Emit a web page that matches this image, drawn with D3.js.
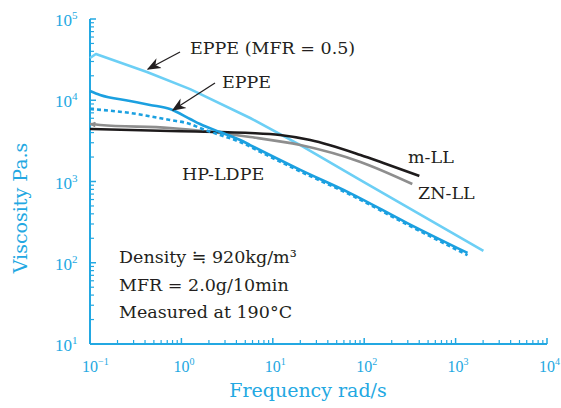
<!DOCTYPE html>
<html>
<head>
<meta charset="utf-8">
<script src="https://cdn.jsdelivr.net/npm/d3@7"></script>
<style>
  body { margin: 0; background: #fff; }
  svg { display: block; }
</style>
</head>
<body>
<div id="chart"></div>
<script>
// Frequency (rad/s) / viscosity (Pa.s) pairs
const eppeMfr05 = [[0.1, 33100], [0.116, 37100], [0.42, 22300], [1.245, 13700], [5.65, 6050], [20, 2810], [91, 1040], [2015, 140]];
const eppe = [[0.1, 13000], [0.129, 11600], [0.274, 9800], [0.454, 8750], [0.75, 7800], [1.245, 5880], [1.6, 5100], [2.65, 4060], [4.4, 3240], [5.65, 2810], [20, 1390], [70, 721], [296, 308], [1350, 132]];
const hpLdpe = [[0.1, 7800], [0.274, 6970], [0.75, 5710], [1.245, 5100], [1.6, 4550], [2.65, 3730], [4.4, 3060], [7.3, 2310], [20, 1330], [70, 690], [296, 295], [1350, 124]];
const mLL = [[0.1, 4430], [0.75, 4190], [5.65, 3950], [12, 3730], [25.7, 3240], [91, 2120], [162, 1690], [401, 1170]];
const znLL = [[0.1, 5100], [0.129, 4960], [0.75, 4550], [5.65, 3530], [20, 2810], [91, 1740], [336, 931]];

const xTicks = [0.1, 1, 10, 100, 1000, 10000];
const xTickExp = ["\u22121", "0", "1", "2", "3", "4"];
const yTicks = [10, 100, 1000, 10000, 100000];
const yTickExp = ["1", "2", "3", "4", "5"];

const width = 561;
const height = 408;
const blue = "#23a8e2";
const font = "DejaVu Serif";
const tickFont = "Liberation Serif";

const svg = d3.select("#chart")
              .append("svg")
              .attr("width", width)
              .attr("height", height);

const defs = svg.append("defs");

const x = d3.scaleLog().domain([0.1, 10000]).range([90, 547]);
const y = d3.scaleLog().domain([10, 100000]).range([344, 19]);

// minor ticks (2..9 in every decade)
const minorX = [];
for (let d = 0.1; d < 10000; d *= 10) for (let k = 2; k <= 9; k++) minorX.push(d * k);
const minorY = [];
for (let d = 10; d < 100000; d *= 10) for (let k = 2; k <= 9; k++) minorY.push(d * k);

const axes = svg.append("g").attr("stroke", blue);

// axis lines
axes.append("line").attr("x1", x(0.1)).attr("x2", x(10000)).attr("y1", y(10)).attr("y2", y(10)).attr("stroke-width", 2);
axes.append("line").attr("x1", x(0.1)).attr("x2", x(0.1)).attr("y1", y(10)).attr("y2", y(100000)).attr("stroke-width", 2);

// x ticks point up, y ticks point right
axes.selectAll(".xminor").data(minorX).enter().append("line")
    .attr("x1", d => x(d)).attr("x2", d => x(d))
    .attr("y1", y(10)).attr("y2", y(10) - 4).attr("stroke-width", 1.2);
axes.selectAll(".xmajor").data(xTicks).enter().append("line")
    .attr("x1", d => x(d)).attr("x2", d => x(d))
    .attr("y1", y(10)).attr("y2", y(10) - 6).attr("stroke-width", 1.5);
axes.selectAll(".yminor").data(minorY).enter().append("line")
    .attr("x1", x(0.1)).attr("x2", x(0.1) + 4)
    .attr("y1", d => y(d)).attr("y2", d => y(d)).attr("stroke-width", 1.2);
axes.selectAll(".ymajor").data(yTicks).enter().append("line")
    .attr("x1", x(0.1)).attr("x2", x(0.1) + 6)
    .attr("y1", d => y(d)).attr("y2", d => y(d)).attr("stroke-width", 1.5);

// tick labels 10^n
const xLab = svg.selectAll(".xlab").data(xTicks).enter().append("text")
    .attr("x", d => x(d) - 8)
    .attr("y", 372)
    .attr("font-family", tickFont)
    .attr("font-size", 16)
    .attr("fill", blue)
    .text("10");
xLab.append("tspan").attr("dy", -7).attr("font-size", 10).text((d, i) => xTickExp[i]);

const yLab = svg.selectAll(".ylab").data(yTicks).enter().append("text")
    .attr("x", 55)
    .attr("y", d => y(d) + 7)
    .attr("font-family", tickFont)
    .attr("font-size", 17)
    .attr("fill", blue)
    .text("10");
yLab.append("tspan").attr("dy", -7).attr("font-size", 11).text((d, i) => yTickExp[i]);

// axis titles
svg.append("text")
   .attr("x", 308).attr("y", 397)
   .attr("text-anchor", "middle")
   .attr("font-family", font).attr("font-size", 19)
   .attr("fill", blue)
   .text("Frequency  rad/s");

svg.append("text")
   .attr("transform", "translate(27,208) rotate(-90)")
   .attr("text-anchor", "middle")
   .attr("font-family", font).attr("font-size", 19)
   .attr("fill", blue)
   .text("Viscosity  Pa.s");

// small wedge at the start of the ZN-LL curve
defs.append("marker")
    .attr("id", "wedge")
    .attr("viewBox", "0 0 10 10")
    .attr("refX", 1).attr("refY", 5)
    .attr("markerWidth", 8).attr("markerHeight", 6)
    .attr("markerUnits", "userSpaceOnUse")
    .attr("orient", "auto")
    .append("path")
    .attr("d", "M0,5 L10,0 L10,10 Z")
    .attr("fill", "#8e8e8e");

// curves
const smooth = d3.line()
                 .x(d => x(d[0]))
                 .y(d => y(d[1]))
                 .curve(d3.curveMonotoneX);
const straight = d3.line()
                   .x(d => x(d[0]))
                   .y(d => y(d[1]));

const series = [
  { data: eppeMfr05, color: "#6ccff5", dash: null, gen: straight },
  { data: znLL, color: "#8e8e8e", dash: null, gen: smooth, start: "url(#wedge)" },
  { data: mLL, color: "#1e1b1c", dash: null, gen: smooth },
  { data: hpLdpe, color: "#1ba0e0", dash: "4,3", gen: smooth },
  { data: eppe, color: "#1ba0e0", dash: null, gen: smooth },
];

svg.append("g").selectAll("path").data(series).enter().append("path")
   .attr("d", d => d.gen(d.data))
   .attr("fill", "none")
   .attr("stroke", d => d.color)
   .attr("stroke-width", 2.6)
   .attr("stroke-linejoin", "round")
   .attr("stroke-dasharray", d => d.dash)
   .attr("marker-start", d => d.start || null);

// arrowheads
defs.append("marker")
    .attr("id", "arrow")
    .attr("viewBox", "0 0 10 10")
    .attr("refX", 9).attr("refY", 5)
    .attr("markerWidth", 14).attr("markerHeight", 14)
    .attr("markerUnits", "userSpaceOnUse")
    .attr("orient", "auto")
    .append("path")
    .attr("d", "M0,1 L10,5 L0,9 L3,5 Z")
    .attr("fill", "#231f20");

const arrows = [[180, 52, 148, 69], [215, 83, 173, 110]];
svg.selectAll(".arrow").data(arrows).enter().append("line")
   .attr("x1", d => d[0]).attr("y1", d => d[1])
   .attr("x2", d => d[2]).attr("y2", d => d[3])
   .attr("stroke", "#231f20").attr("stroke-width", 1.3)
   .attr("marker-end", "url(#arrow)");

// labels
const labels = [
  { t: "EPPE (MFR = 0.5)", x: 190, y: 54 },
  { t: "EPPE", x: 222, y: 88 },
  { t: "HP-LDPE", x: 182, y: 180 },
  { t: "m-LL", x: 408, y: 163 },
  { t: "ZN-LL", x: 418, y: 199 },
  { t: "Density \u2252 920kg/m\u00b3", x: 119, y: 263 },
  { t: "MFR = 2.0g/10min", x: 119, y: 291 },
  { t: "Measured at 190\u00b0C", x: 119, y: 318 },
];
svg.selectAll(".lab").data(labels).enter().append("text")
   .attr("x", d => d.x).attr("y", d => d.y)
   .attr("font-family", font).attr("font-size", 17.5)
   .attr("fill", "#231f20")
   .text(d => d.t);
</script>
</body>
</html>
